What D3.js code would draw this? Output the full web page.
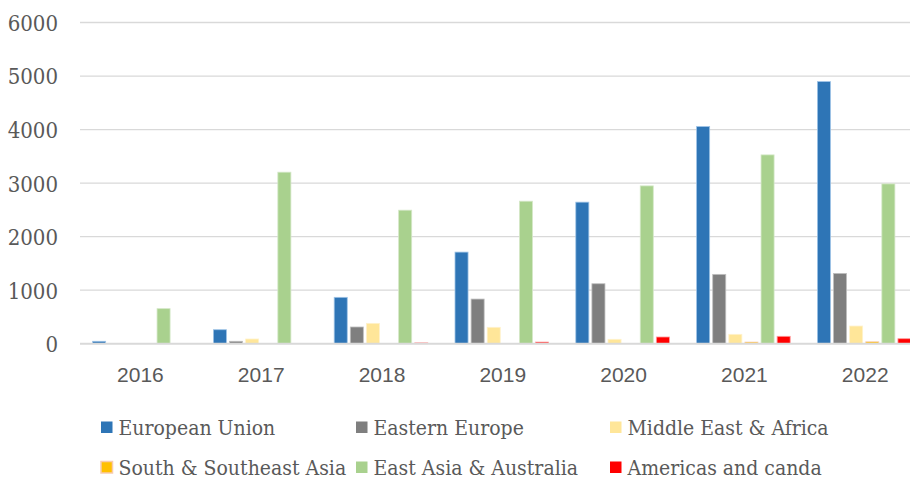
<!DOCTYPE html>
<html>
<head>
<meta charset="utf-8">
<script src="https://cdn.jsdelivr.net/npm/d3@7/dist/d3.min.js"></script>
<style>
  html, body { margin: 0; padding: 0; background: #fff; }
  svg { display: block; }
  .serif { font-family: "DejaVu Serif Condensed", "DejaVu Serif", serif; font-stretch: condensed; }
  .sans { font-family: "Liberation Sans", Arial, sans-serif; }
</style>
</head>
<body>
<svg id="chart" width="910" height="479"></svg>
<script>
// Yearly values per region
const years = ["2016", "2017", "2018", "2019", "2020", "2021", "2022"];
const seriesNames = [
  "European Union",
  "Eastern Europe",
  "Middle East & Africa",
  "South & Southeast Asia",
  "East Asia & Australia",
  "Americas and canda"
];
const europeanUnion   = [45, 261, 866, 1711, 2644, 4056, 4896];
const easternEurope   = [0, 45, 312, 834, 1120, 1295, 1313];
const middleEastAfr   = [0, 88, 380, 306, 82, 175, 330];
const southSEAsia     = [0, 0, 0, 0, 0, 30, 35];
const eastAsiaAus     = [655, 3204, 2494, 2662, 2948, 3527, 2985];
const americasCanada  = [0, 0, 15, 30, 125, 138, 93];
const yTicks = [0, 1000, 2000, 3000, 4000, 5000, 6000];

const seriesValues = [europeanUnion, easternEurope, middleEastAfr, southSEAsia, eastAsiaAus, americasCanada];
const fills   = ["#2E75B6", "#7F7F7F", "#FFE699", "#FFC000", "#A9D18E", "#FF0000"];
const strokes = ["#9DC3E6", "#BFBFBF", "#FFF2CC", "#F8CBAD", "#D5E8C8", "#FF9999"];

const svg = d3.select("#chart");
const left = 80, bandW = 120.8;
const yTop = 22.5, yBottom = 343.7;

const x0 = d3.scaleBand().domain(years).range([left, left + bandW * years.length]).padding(0);
const x1 = d3.scaleBand().domain(seriesNames).range([12.6, 106.2]).paddingInner(0.19).paddingOuter(0);
const y = d3.scaleLinear().domain([0, 6000]).range([yBottom, yTop]);

// Horizontal gridlines
svg.append("g").selectAll("line").data(yTicks.slice(1)).join("line")
  .attr("x1", left).attr("x2", 910)
  .attr("y1", d => y(d)).attr("y2", d => y(d))
  .attr("stroke", "#D9D9D9").attr("stroke-width", 1.3);

// Y axis labels
const yAxis = d3.axisLeft(y).tickValues(yTicks).tickSize(0).tickPadding(0).tickFormat(d3.format("d"));
const gy = svg.append("g").attr("transform", `translate(58,0)`).call(yAxis)
  .attr("font-family", null).attr("font-size", null);
gy.select(".domain").remove();
gy.selectAll("text")
  .attr("class", "serif")
  .style("font-size", "22px").attr("fill", "#595959").attr("dy", "0.36em");

// Bars
const rows = years.map((yr, i) => ({
  year: yr,
  values: seriesNames.map((s, k) => ({ series: s, k, value: seriesValues[k][i] }))
}));

svg.append("g").selectAll("g").data(rows).join("g")
  .attr("transform", d => `translate(${x0(d.year)},0)`)
  .selectAll("rect").data(d => d.values.filter(v => v.value > 0)).join("rect")
  .attr("x", d => x1(d.series))
  .attr("width", x1.bandwidth())
  .attr("y", d => y(d.value))
  .attr("height", d => yBottom - y(d.value))
  .attr("fill", d => fills[d.k])
  .attr("stroke", d => strokes[d.k])
  .attr("stroke-width", 0.8);

// Baseline
svg.append("line")
  .attr("x1", left).attr("x2", 910)
  .attr("y1", yBottom).attr("y2", yBottom)
  .attr("stroke", "#D9D9D9").attr("stroke-width", 2);

// X axis labels
const xAxis = d3.axisBottom(x0).tickSize(0).tickPadding(0);
const gx = svg.append("g").attr("transform", `translate(0,382)`).call(xAxis)
  .attr("font-family", null).attr("font-size", null);
gx.select(".domain").remove();
gx.selectAll("text")
  .attr("class", "sans")
  .style("font-size", "21px").attr("fill", "#595959").attr("dy", 0);

// Legend
const legendX = [101, 356, 610];
const legendY = [435, 475];
const legend = svg.append("g").selectAll("g").data(seriesNames).join("g")
  .attr("transform", (d, i) => `translate(${legendX[i % 3]},${legendY[Math.floor(i / 3)]})`);
legend.append("rect")
  .attr("x", 0).attr("y", -13.5).attr("width", 11.5).attr("height", 11.5)
  .attr("fill", (d, i) => fills[i])
  .attr("stroke", (d, i) => i === 3 ? strokes[i] : "none")
  .attr("stroke-width", 1.5);
legend.append("text")
  .attr("class", "serif")
  .attr("x", 17.5).attr("y", 0)
  .style("font-size", "21px").attr("fill", "#595959")
  .text(d => d);
</script>
</body>
</html>
